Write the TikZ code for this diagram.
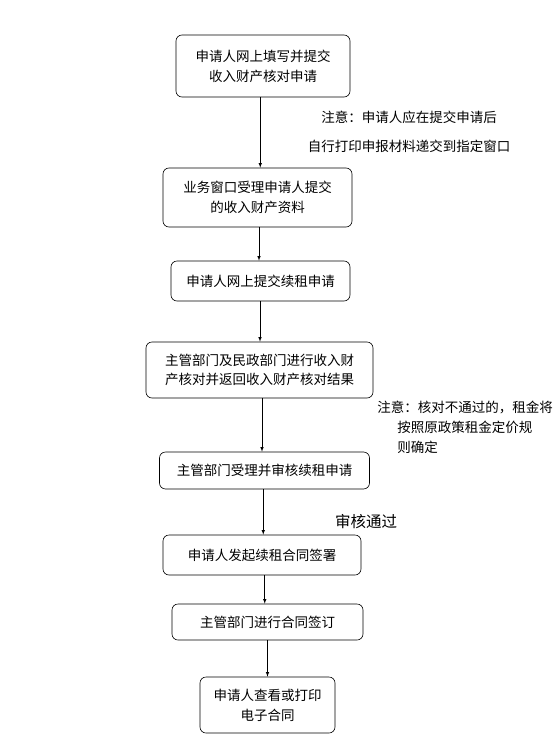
\documentclass[tikz,border=0pt]{standalone}
\usepackage{fontspec}
\setmainfont{Noto Sans CJK SC}
\usetikzlibrary{arrows,calc}

\tikzset{
  stepbox/.style={draw,rounded corners=6pt,align=center,inner sep=2pt,
    font=\fontsize{13.5}{20}\selectfont},
  notetext/.style={inner sep=0pt,font=\fontsize{13.5}{29}\selectfont}
}

\begin{document}
\begin{tikzpicture}[x=1pt,y=-1pt,>=latex,semithick]
      \useasboundingbox (0,0) rectangle (553,744);
      % steps
      \node[stepbox,minimum width=174pt,minimum height=62pt] (apply) at (263,66) {申请人网上填写并提交\\收入财产核对申请};
      \node[stepbox,minimum width=189pt,minimum height=59pt] (accept) at (257.5,197.5) {业务窗口受理申请人提交\\的收入财产资料};
      \node[stepbox,minimum width=179pt,minimum height=40pt] (submit) at (260.5,281) {申请人网上提交续租申请};
      \node[stepbox,minimum width=227pt,minimum height=56pt,font=\fontsize{13.5}{19}\selectfont] (verify) at (259.5,370) {主管部门及民政部门进行收入财\\产核对并返回收入财产核对结果};
      \node[stepbox,minimum width=210pt,minimum height=37pt] (review) at (264.5,470.5) {主管部门受理并审核续租申请};
      \node[stepbox,minimum width=198pt,minimum height=40pt] (sign) at (262,555) {申请人发起续租合同签署};
      \node[stepbox,minimum width=191pt,minimum height=36pt] (seal) at (267.5,622) {主管部门进行合同签订};
      \node[stepbox,minimum width=135pt,minimum height=56pt] (view) at (267.5,705) {申请人查看或打印\\电子合同};
      % notes
      \node[notetext,align=center] (notesubmit) at (409,131.5) {注意：申请人应在提交申请后\\自行打印申报材料递交到指定窗口};
      \node[notetext,align=left,anchor=north west,font=\fontsize{13.5}{20}\selectfont] (noteverify) at (377,401) {注意：核对不通过的，租金将\\\hspace*{20pt}按照原政策租金定价规\\\hspace*{20pt}则确定};
      \node[notetext,font=\fontsize{15.5}{18}\selectfont] (passed) at (366,522) {审核通过};
      % arrows
      \foreach \a/\b in {apply/accept,accept/submit,submit/verify,verify/review,review/sign,sign/seal,seal/view}{
        \path ($(\a.south)!.5!(\b.north)$) coordinate (mid);
        \draw[->] (mid |- \a.south) -- (mid |- \b.north);
      }
\end{tikzpicture}
\end{document}
